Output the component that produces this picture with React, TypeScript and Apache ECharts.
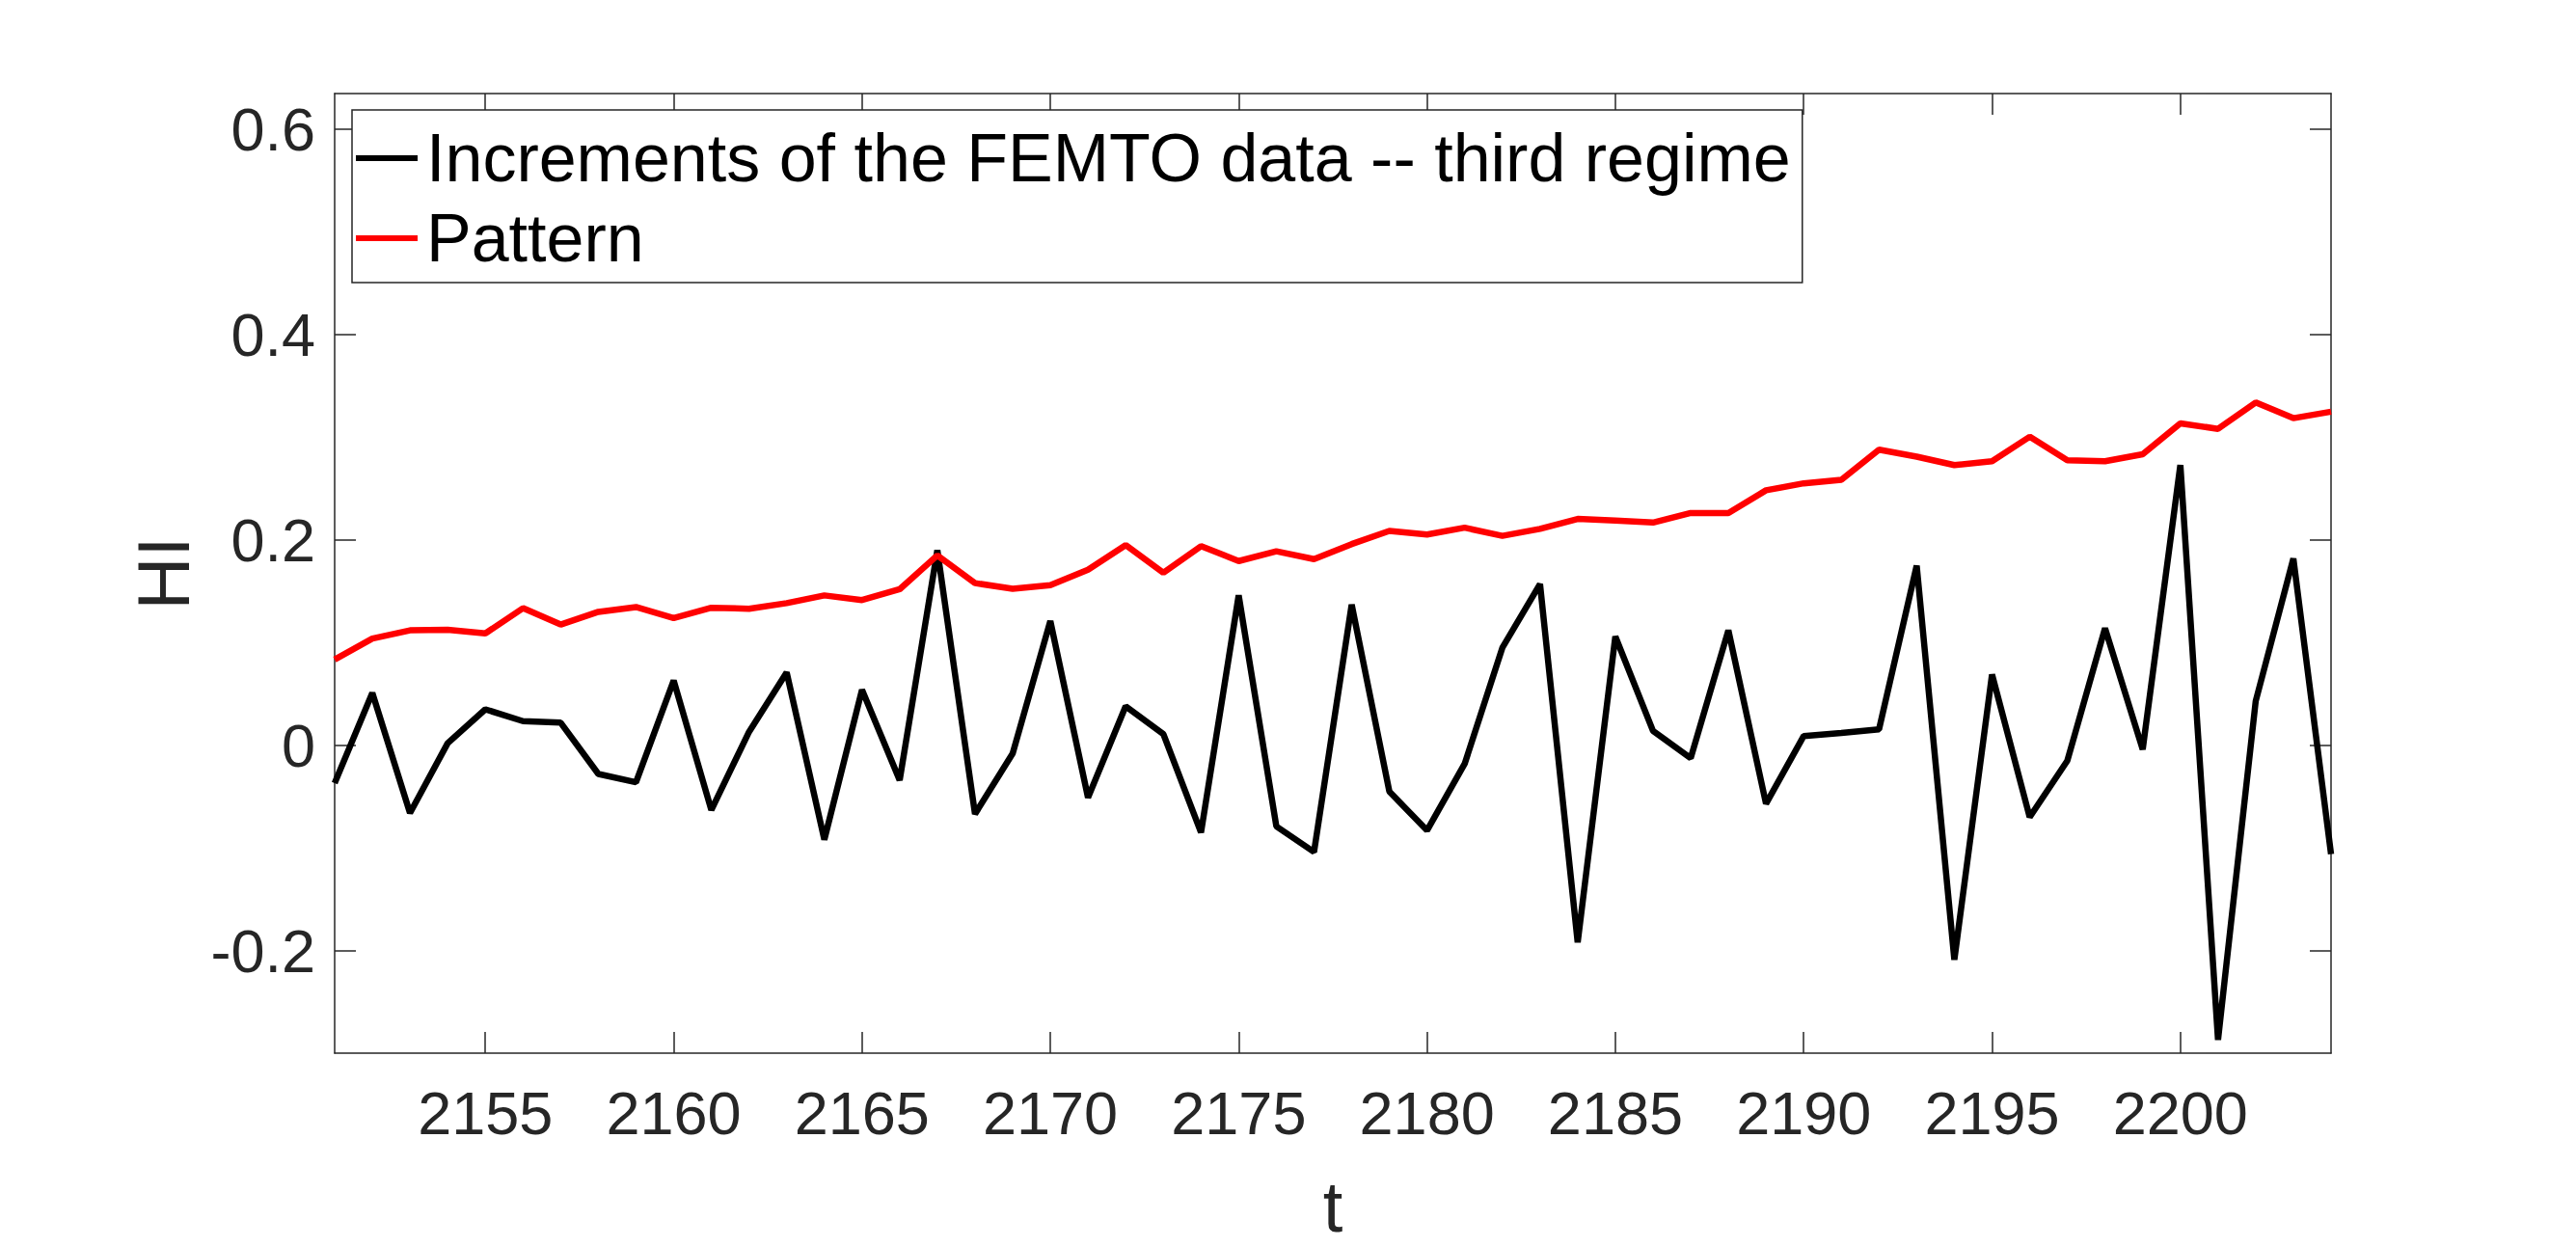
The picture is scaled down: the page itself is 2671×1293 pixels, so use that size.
import React, { useEffect, useRef } from "react";
import * as echarts from "echarts";

const tValues = [
  2151, 2152, 2153, 2154, 2155, 2156, 2157, 2158, 2159, 2160,
  2161, 2162, 2163, 2164, 2165, 2166, 2167, 2168, 2169, 2170,
  2171, 2172, 2173, 2174, 2175, 2176, 2177, 2178, 2179, 2180,
  2181, 2182, 2183, 2184, 2185, 2186, 2187, 2188, 2189, 2190,
  2191, 2192, 2193, 2194, 2195, 2196, 2197, 2198, 2199, 2200,
  2201, 2202, 2203, 2204,
];

const increments = [
  -0.037, 0.051, -0.066, 0.002, 0.035, 0.0235, 0.022, -0.028, -0.036, 0.063,
  -0.063, 0.013, 0.071, -0.092, 0.054, -0.034, 0.19, -0.067, -0.008, 0.121,
  -0.051, 0.038, 0.011, -0.085, 0.146, -0.079, -0.104, 0.137, -0.045, -0.083,
  -0.018, 0.095, 0.157, -0.192, 0.106, 0.014, -0.0125, 0.112, -0.057, 0.009,
  0.012, 0.0155, 0.175, -0.209, 0.069, -0.07, -0.015, 0.114, -0.004, 0.273,
  -0.287, 0.043, 0.182, -0.106,
];

const pattern = [
  0.0835, 0.104, 0.112, 0.1126, 0.109, 0.1336, 0.1176, 0.13, 0.1347, 0.124,
  0.134, 0.133, 0.1385, 0.146, 0.1415, 0.152, 0.185, 0.158, 0.1525, 0.156,
  0.171, 0.195, 0.168, 0.194, 0.1795, 0.189, 0.1814, 0.196, 0.2088, 0.2053,
  0.212, 0.204, 0.2108, 0.2205, 0.219, 0.217, 0.2263, 0.2263, 0.2484, 0.2552,
  0.2587, 0.288, 0.2812, 0.273, 0.2768, 0.3006, 0.2777, 0.2768, 0.2835, 0.3137,
  0.3083, 0.334, 0.3187, 0.325,
];

const xTicks = [2155, 2160, 2165, 2170, 2175, 2180, 2185, 2190, 2195, 2200];
const yTicks = [-0.2, 0, 0.2, 0.4, 0.6];

const seriesNames = ["Increments of the FEMTO data -- third regime", "Pattern"];
const xMin = 2151;
const xMax = 2204;
const yMin = -0.3;
const yMax = 0.635;

const FONT = "'Liberation Sans', Arial, Helvetica, sans-serif";
const AXIS_COLOR = "#262626";

export default function App() {
  const ref = useRef<HTMLDivElement>(null);

  useEffect(() => {
    if (!ref.current) return;
    const chart = echarts.init(ref.current, undefined, { renderer: "svg" });

    const yLabelFmt = (v: number) => {
      const val = Math.round(v * 10) / 10;
      return val === 0 ? "0" : String(val);
    };

    const tickX = { show: true, inside: true, length: 22, customValues: xTicks, lineStyle: { color: AXIS_COLOR, width: 1.5 } };
    const tickY = { show: true, inside: true, length: 22, customValues: yTicks, lineStyle: { color: AXIS_COLOR, width: 1.5 } };
    const lineStyleAxis = { show: true, onZero: false, lineStyle: { color: AXIS_COLOR, width: 1.5 } };

    chart.setOption({
      animation: false,
      backgroundColor: "#ffffff",
      grid: { left: 347, right: 254, top: 97, bottom: 194, containLabel: false },
      legend: {
        show: true,
        orient: "vertical",
        left: 365,
        top: 114,
        padding: [15, 12, 11, 4],
        itemGap: 13,
        itemWidth: 64,
        itemHeight: 6,
        icon: "rect",
        backgroundColor: "#ffffff",
        borderColor: AXIS_COLOR,
        borderWidth: 1.5,
        borderRadius: 0,
        data: seriesNames,
        textStyle: {
          fontFamily: FONT,
          fontSize: 70,
          color: "#000000",
          lineHeight: 70,
          padding: [0, 0, 0, 4],
        },
      },
      xAxis: [
        {
          type: "value",
          min: xMin,
          max: xMax,
          position: "bottom",
          name: "t",
          nameLocation: "middle",
          nameGap: 122,
          nameTextStyle: { fontFamily: FONT, fontSize: 74, color: AXIS_COLOR },
          axisLine: lineStyleAxis,
          axisTick: tickX,
          splitLine: { show: false },
          axisLabel: {
            show: true,
            margin: 30,
            fontFamily: FONT,
            fontSize: 63,
            color: AXIS_COLOR,
            customValues: xTicks,
            formatter: (v: number) => String(Math.round(v)),
          },
        },
        {
          type: "value",
          min: xMin,
          max: xMax,
          position: "top",
          axisLine: lineStyleAxis,
          axisTick: tickX,
          splitLine: { show: false },
          axisLabel: { show: false },
        },
      ],
      yAxis: [
        {
          type: "value",
          min: yMin,
          max: yMax,
          position: "left",
          name: "HI",
          nameLocation: "middle",
          nameGap: 136,
          nameRotate: 90,
          nameTextStyle: { fontFamily: FONT, fontSize: 76, color: AXIS_COLOR },
          axisLine: lineStyleAxis,
          axisTick: tickY,
          splitLine: { show: false },
          axisLabel: {
            show: true,
            margin: 20,
            fontFamily: FONT,
            fontSize: 63,
            color: AXIS_COLOR,
            customValues: yTicks,
            formatter: yLabelFmt,
          },
        },
        {
          type: "value",
          min: yMin,
          max: yMax,
          position: "right",
          axisLine: lineStyleAxis,
          axisTick: tickY,
          splitLine: { show: false },
          axisLabel: { show: false },
        },
      ],
      series: [
        {
          name: seriesNames[0],
          type: "line",
          xAxisIndex: 0,
          yAxisIndex: 0,
          data: tValues.map((t, i) => [t, increments[i]]),
          symbol: "none",
          lineStyle: { color: "#000000", width: 6.5 },
          itemStyle: { color: "#000000" },
        },
        {
          name: seriesNames[1],
          type: "line",
          xAxisIndex: 0,
          yAxisIndex: 0,
          data: tValues.map((t, i) => [t, pattern[i]]),
          symbol: "none",
          lineStyle: { color: "#ff0000", width: 6.5 },
          itemStyle: { color: "#ff0000" },
        },
      ],
    });

    return () => chart.dispose();
  }, []);

  return (
    <div
      ref={ref}
      style={{ position: "absolute", left: 0, top: 0, width: 2671, height: 1293, background: "#fff" }}
    />
  );
}
